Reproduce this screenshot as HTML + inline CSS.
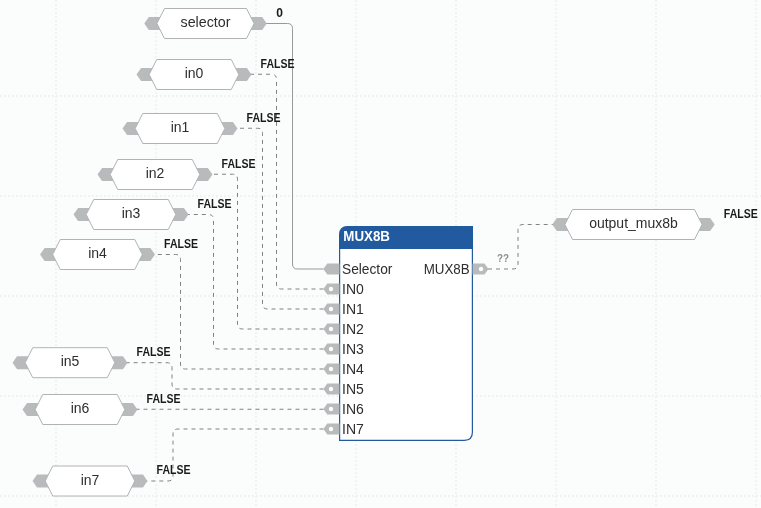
<!DOCTYPE html>
<html lang="en">
<head>
<meta charset="utf-8">
<title>MUX8B diagram</title>
<style>
html,body{margin:0;padding:0;background:#fbfcfc;overflow:hidden}
svg{display:block;will-change:transform;font-family:"Liberation Sans",sans-serif}
</style>
</head>
<body>
<svg width="761" height="508" viewBox="0 0 761 508">
<rect x="0" y="0" width="761" height="508" fill="#fbfcfc"/>
<g stroke="#f1f2f2" stroke-width="2" stroke-dasharray="2 2" fill="none"><line x1="56" y1="0" x2="56" y2="508"/><line x1="156" y1="0" x2="156" y2="508"/><line x1="256" y1="0" x2="256" y2="508"/><line x1="356" y1="0" x2="356" y2="508"/><line x1="456" y1="0" x2="456" y2="508"/><line x1="556" y1="0" x2="556" y2="508"/><line x1="656" y1="0" x2="656" y2="508"/><line x1="756" y1="0" x2="756" y2="508"/></g>
<g stroke="#f1f2f2" stroke-width="2" stroke-dasharray="2 2" fill="none"><line x1="0" y1="96" x2="761" y2="96"/><line x1="0" y1="196" x2="761" y2="196"/><line x1="0" y1="296" x2="761" y2="296"/><line x1="0" y1="396" x2="761" y2="396"/><line x1="0" y1="496" x2="761" y2="496"/></g>
<path d="M323.5 269 L297.5 269 Q292.5 269 292.5 264 L292.5 28.5 Q292.5 23.5 287.5 23.5 L265.7 23.5" fill="none" stroke="#999999" stroke-width="1"/>
<path d="M323.5 289 L281.5 289 Q276.5 289 276.5 284 L276.5 79.25 Q276.5 74.25 271.5 74.25 L250.45 74.25" fill="none" stroke="#828282" stroke-width="1" stroke-dasharray="4 4"/>
<path d="M323.5 309 L267.5 309 Q262.5 309 262.5 304 L262.5 133.25 Q262.5 128.25 257.5 128.25 L236.45 128.25" fill="none" stroke="#828282" stroke-width="1" stroke-dasharray="4 4"/>
<path d="M323.5 329 L242.5 329 Q237.5 329 237.5 324 L237.5 179.25 Q237.5 174.25 232.5 174.25 L211.45 174.25" fill="none" stroke="#828282" stroke-width="1" stroke-dasharray="4 4"/>
<path d="M323.5 349 L218.5 349 Q213.5 349 213.5 344 L213.5 219.5 Q213.5 214.5 208.5 214.5 L187.45 214.5" fill="none" stroke="#828282" stroke-width="1" stroke-dasharray="4 4"/>
<path d="M323.5 369 L185.5 369 Q180.5 369 180.5 364 L180.5 259.5 Q180.5 254.5 175.5 254.5 L153.95 254.5" fill="none" stroke="#828282" stroke-width="1" stroke-dasharray="4 4"/>
<path d="M323.5 389 L177 389 Q172 389 172 384 L172 367.7 Q172 362.7 167 362.7 L126.45 362.7" fill="none" stroke="#828282" stroke-width="1" stroke-dasharray="4 4"/>
<path d="M323.5 409.25 L136.45 409.25" fill="none" stroke="#828282" stroke-width="1" stroke-dasharray="4 4"/>
<path d="M323.5 429 L178 429 Q173 429 173 434 L173 476 Q173 481 168 481 L146.45 481" fill="none" stroke="#828282" stroke-width="1" stroke-dasharray="4 4"/>
<path d="M488 269 L513 269 Q518 269 518 264 L518 229.5 Q518 224.5 523 224.5 L553.3 224.5" fill="none" stroke="#828282" stroke-width="1" stroke-dasharray="4 4"/>
<path d="M144.3 23.5 L148.8 17 L262.2 17 L266.7 23.5 L262.2 30 L148.8 30Z" fill="#b8babc"/>
<path d="M156.9 23.5 L164.5 8.5 L246.5 8.5 L254.1 23.5 L246.5 38.5 L164.5 38.5Z" fill="#ffffff" stroke="#b0b3b5" stroke-width="1"/>
<text x="205.5" y="27.1" text-anchor="middle" font-size="14" fill="#2e2e2e" textLength="50" lengthAdjust="spacingAndGlyphs">selector</text>
<text x="276.3" y="16.9" font-size="12" font-weight="bold" fill="#1a1a1a">0</text>
<path d="M136.55 74.5 L141.05 68 L246.95 68 L251.45 74.5 L246.95 81 L141.05 81Z" fill="#b8babc"/>
<path d="M149.15 74.5 L156.75 59.5 L231.25 59.5 L238.85 74.5 L231.25 89.5 L156.75 89.5Z" fill="#ffffff" stroke="#b0b3b5" stroke-width="1"/>
<text x="194" y="78.1" text-anchor="middle" font-size="14" fill="#2e2e2e">in0</text>
<text x="260.55" y="67.9" font-size="12" font-weight="bold" fill="#1a1a1a" textLength="34" lengthAdjust="spacingAndGlyphs">FALSE</text>
<path d="M122.55 128.5 L127.05 122 L232.95 122 L237.45 128.5 L232.95 135 L127.05 135Z" fill="#b8babc"/>
<path d="M135.15 128.5 L142.75 113.5 L217.25 113.5 L224.85 128.5 L217.25 143.5 L142.75 143.5Z" fill="#ffffff" stroke="#b0b3b5" stroke-width="1"/>
<text x="180" y="132.1" text-anchor="middle" font-size="14" fill="#2e2e2e">in1</text>
<text x="246.55" y="121.9" font-size="12" font-weight="bold" fill="#1a1a1a" textLength="34" lengthAdjust="spacingAndGlyphs">FALSE</text>
<path d="M97.55 174.5 L102.05 168 L207.95 168 L212.45 174.5 L207.95 181 L102.05 181Z" fill="#b8babc"/>
<path d="M110.15 174.5 L117.75 159.5 L192.25 159.5 L199.85 174.5 L192.25 189.5 L117.75 189.5Z" fill="#ffffff" stroke="#b0b3b5" stroke-width="1"/>
<text x="155" y="178.1" text-anchor="middle" font-size="14" fill="#2e2e2e">in2</text>
<text x="221.55" y="167.9" font-size="12" font-weight="bold" fill="#1a1a1a" textLength="34" lengthAdjust="spacingAndGlyphs">FALSE</text>
<path d="M73.55 214.5 L78.05 208 L183.95 208 L188.45 214.5 L183.95 221 L78.05 221Z" fill="#b8babc"/>
<path d="M86.15 214.5 L93.75 199.5 L168.25 199.5 L175.85 214.5 L168.25 229.5 L93.75 229.5Z" fill="#ffffff" stroke="#b0b3b5" stroke-width="1"/>
<text x="131" y="218.1" text-anchor="middle" font-size="14" fill="#2e2e2e">in3</text>
<text x="197.55" y="207.9" font-size="12" font-weight="bold" fill="#1a1a1a" textLength="34" lengthAdjust="spacingAndGlyphs">FALSE</text>
<path d="M40.05 254.5 L44.55 248 L150.45 248 L154.95 254.5 L150.45 261 L44.55 261Z" fill="#b8babc"/>
<path d="M52.65 254.5 L60.25 239.5 L134.75 239.5 L142.35 254.5 L134.75 269.5 L60.25 269.5Z" fill="#ffffff" stroke="#b0b3b5" stroke-width="1"/>
<text x="97.5" y="258.1" text-anchor="middle" font-size="14" fill="#2e2e2e">in4</text>
<text x="164.05" y="247.9" font-size="12" font-weight="bold" fill="#1a1a1a" textLength="34" lengthAdjust="spacingAndGlyphs">FALSE</text>
<path d="M12.55 362.7 L17.05 356.2 L122.95 356.2 L127.45 362.7 L122.95 369.2 L17.05 369.2Z" fill="#b8babc"/>
<path d="M25.15 362.7 L32.75 347.7 L107.25 347.7 L114.85 362.7 L107.25 377.7 L32.75 377.7Z" fill="#ffffff" stroke="#b0b3b5" stroke-width="1"/>
<text x="70" y="366.3" text-anchor="middle" font-size="14" fill="#2e2e2e">in5</text>
<text x="136.55" y="356.1" font-size="12" font-weight="bold" fill="#1a1a1a" textLength="34" lengthAdjust="spacingAndGlyphs">FALSE</text>
<path d="M22.55 409.5 L27.05 403 L132.95 403 L137.45 409.5 L132.95 416 L27.05 416Z" fill="#b8babc"/>
<path d="M35.15 409.5 L42.75 394.5 L117.25 394.5 L124.85 409.5 L117.25 424.5 L42.75 424.5Z" fill="#ffffff" stroke="#b0b3b5" stroke-width="1"/>
<text x="80" y="413.1" text-anchor="middle" font-size="14" fill="#2e2e2e">in6</text>
<text x="146.55" y="402.9" font-size="12" font-weight="bold" fill="#1a1a1a" textLength="34" lengthAdjust="spacingAndGlyphs">FALSE</text>
<path d="M32.55 481 L37.05 474.5 L142.95 474.5 L147.45 481 L142.95 487.5 L37.05 487.5Z" fill="#b8babc"/>
<path d="M45.15 481 L52.75 466 L127.25 466 L134.85 481 L127.25 496 L52.75 496Z" fill="#ffffff" stroke="#b0b3b5" stroke-width="1"/>
<text x="90" y="484.6" text-anchor="middle" font-size="14" fill="#2e2e2e">in7</text>
<text x="156.55" y="474.4" font-size="12" font-weight="bold" fill="#1a1a1a" textLength="34" lengthAdjust="spacingAndGlyphs">FALSE</text>
<path d="M552.3 224.5 L556.8 218 L710.2 218 L714.7 224.5 L710.2 231 L556.8 231Z" fill="#b8babc"/>
<path d="M564.9 224.5 L572.5 209.5 L694.5 209.5 L702.1 224.5 L694.5 239.5 L572.5 239.5Z" fill="#ffffff" stroke="#b0b3b5" stroke-width="1"/>
<text x="633.5" y="228.1" text-anchor="middle" font-size="14" fill="#2e2e2e">output_mux8b</text>
<text x="723.8" y="217.9" font-size="12" font-weight="bold" fill="#1a1a1a" textLength="34" lengthAdjust="spacingAndGlyphs">FALSE</text>
<path d="M347.6 226.5 L472.4 226.5 L472.4 432.3 Q472.4 440.3 464.4 440.3 L339.6 440.3 L339.6 234.5 Q339.6 226.5 347.6 226.5Z" fill="#ffffff" stroke="#215a9f" stroke-width="1.2"/>
<path d="M347.6 226.5 L472.4 226.5 L472.4 249 L339.6 249 L339.6 234.5 Q339.6 226.5 347.6 226.5Z" fill="#215a9f"/>
<text x="343.3" y="241.2" font-size="14" font-weight="bold" fill="#ffffff" textLength="46.7" lengthAdjust="spacingAndGlyphs">MUX8B</text>
<path d="M323.3 269 L327.3 263.4 L339.5 263.4 L339.5 274.6 L327.3 274.6Z" fill="#b8babc"/>
<text x="342" y="273.8" font-size="14" fill="#2e2e2e" textLength="50.4" lengthAdjust="spacingAndGlyphs">Selector</text>
<path d="M323.3 289 L327.3 283.4 L339.5 283.4 L339.5 294.6 L327.3 294.6Z" fill="#b8babc"/>
<circle cx="331" cy="289" r="2.2" fill="#ffffff"/>
<text x="342" y="293.8" font-size="14" fill="#2e2e2e">IN0</text>
<path d="M323.3 309 L327.3 303.4 L339.5 303.4 L339.5 314.6 L327.3 314.6Z" fill="#b8babc"/>
<circle cx="331" cy="309" r="2.2" fill="#ffffff"/>
<text x="342" y="313.8" font-size="14" fill="#2e2e2e">IN1</text>
<path d="M323.3 329 L327.3 323.4 L339.5 323.4 L339.5 334.6 L327.3 334.6Z" fill="#b8babc"/>
<circle cx="331" cy="329" r="2.2" fill="#ffffff"/>
<text x="342" y="333.8" font-size="14" fill="#2e2e2e">IN2</text>
<path d="M323.3 349 L327.3 343.4 L339.5 343.4 L339.5 354.6 L327.3 354.6Z" fill="#b8babc"/>
<circle cx="331" cy="349" r="2.2" fill="#ffffff"/>
<text x="342" y="353.8" font-size="14" fill="#2e2e2e">IN3</text>
<path d="M323.3 369 L327.3 363.4 L339.5 363.4 L339.5 374.6 L327.3 374.6Z" fill="#b8babc"/>
<circle cx="331" cy="369" r="2.2" fill="#ffffff"/>
<text x="342" y="373.8" font-size="14" fill="#2e2e2e">IN4</text>
<path d="M323.3 389 L327.3 383.4 L339.5 383.4 L339.5 394.6 L327.3 394.6Z" fill="#b8babc"/>
<circle cx="331" cy="389" r="2.2" fill="#ffffff"/>
<text x="342" y="393.8" font-size="14" fill="#2e2e2e">IN5</text>
<path d="M323.3 409 L327.3 403.4 L339.5 403.4 L339.5 414.6 L327.3 414.6Z" fill="#b8babc"/>
<circle cx="331" cy="409" r="2.2" fill="#ffffff"/>
<text x="342" y="413.8" font-size="14" fill="#2e2e2e">IN6</text>
<path d="M323.3 429 L327.3 423.4 L339.5 423.4 L339.5 434.6 L327.3 434.6Z" fill="#b8babc"/>
<circle cx="331" cy="429" r="2.2" fill="#ffffff"/>
<text x="342" y="433.8" font-size="14" fill="#2e2e2e">IN7</text>
<text x="469.7" y="273.8" font-size="14" text-anchor="end" fill="#2e2e2e" textLength="46" lengthAdjust="spacingAndGlyphs">MUX8B</text>
<path d="M472.5 263.4 L484.5 263.4 L488.5 269 L484.5 274.6 L472.5 274.6Z" fill="#b8babc"/>
<circle cx="481" cy="269" r="2.2" fill="#ffffff"/>
<text x="497" y="261.9" font-size="11.5" font-weight="bold" fill="#8e8e8e" textLength="12" lengthAdjust="spacingAndGlyphs">??</text>
</svg>
</body>
</html>
